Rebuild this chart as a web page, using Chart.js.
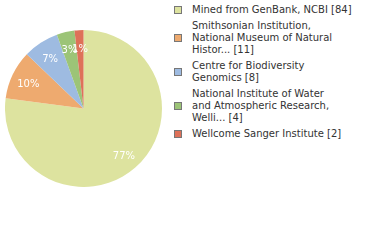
<!DOCTYPE html>
<html>
<head>
<meta charset="utf-8">
<script src="https://cdn.jsdelivr.net/npm/chart.js@4/dist/chart.umd.min.js"></script>
<style>
  html, body { margin: 0; padding: 0; background: #fff; }
  body { width: 380px; height: 240px; position: relative; overflow: hidden; font-family: "DejaVu Sans", sans-serif; }
  #pie { position: absolute; left: 5px; top: 30px; }
  #legend { position: absolute; left: 174px; top: 4px; font-size: 10px; color: #333; }
  .row { display: flex; align-items: center; margin-bottom: 3.5px; }
  .box { width: 6px; height: 6px; border: 1px solid #777; margin-right: 10px; flex: none; }
  .txt { line-height: 12.2px; white-space: nowrap; }
</style>
</head>
<body>
<canvas id="pie" width="157" height="157"></canvas>
<div id="legend"></div>
<script>
const labels = [
  ['Mined from GenBank, NCBI'],
  ['Smithsonian Institution,', 'National Museum of Natural', 'Histor...'],
  ['Centre for Biodiversity', 'Genomics'],
  ['National Institute of Water', 'and Atmospheric Research,', 'Welli...'],
  ['Wellcome Sanger Institute']
];
const counts = [84, 11, 8, 4, 2];
const colors = ['#dde39f', '#eeaa6f', '#9ebbe1', '#9cc477', '#de7159'];

const total = counts.reduce((a, b) => a + b, 0);

// percent labels drawn inside each slice
const sliceLabels = {
  id: 'sliceLabels',
  afterDatasetsDraw(chart) {
    const ctx = chart.ctx;
    const meta = chart.getDatasetMeta(0);
    ctx.save();
    ctx.fillStyle = '#fff';
    ctx.font = '10px "DejaVu Sans"';
    ctx.textAlign = 'center';
    ctx.textBaseline = 'middle';
    meta.data.forEach((arc, i) => {
      const p = arc.getProps(['x', 'y', 'startAngle', 'endAngle', 'outerRadius'], true);
      const mid = (p.startAngle + p.endAngle) / 2;
      const r = p.outerRadius * 0.78;
      const pct = Math.floor(counts[i] / total * 100) + '%';
      ctx.fillText(pct, p.x + Math.cos(mid) * r, p.y + Math.sin(mid) * r + 2);
    });
    ctx.restore();
  }
};

new Chart(document.getElementById('pie'), {
  type: 'pie',
  data: {
    labels: labels.map(l => l.join(' ')),
    datasets: [{
      data: counts,
      backgroundColor: colors,
      borderWidth: 0
    }]
  },
  options: {
    responsive: false,
    animation: false,
    layout: { padding: 0 },
    plugins: {
      legend: { display: false },
      tooltip: { enabled: false }
    }
  },
  plugins: [sliceLabels]
});

const legend = document.getElementById('legend');
labels.forEach((lines, i) => {
  const row = document.createElement('div');
  row.className = 'row';
  const box = document.createElement('div');
  box.className = 'box';
  box.style.background = colors[i];
  const txt = document.createElement('div');
  txt.className = 'txt';
  const shown = lines.slice();
  shown[shown.length - 1] += ' [' + counts[i] + ']';
  txt.innerHTML = shown.join('<br>');
  row.appendChild(box);
  row.appendChild(txt);
  legend.appendChild(row);
});
</script>
</body>
</html>
